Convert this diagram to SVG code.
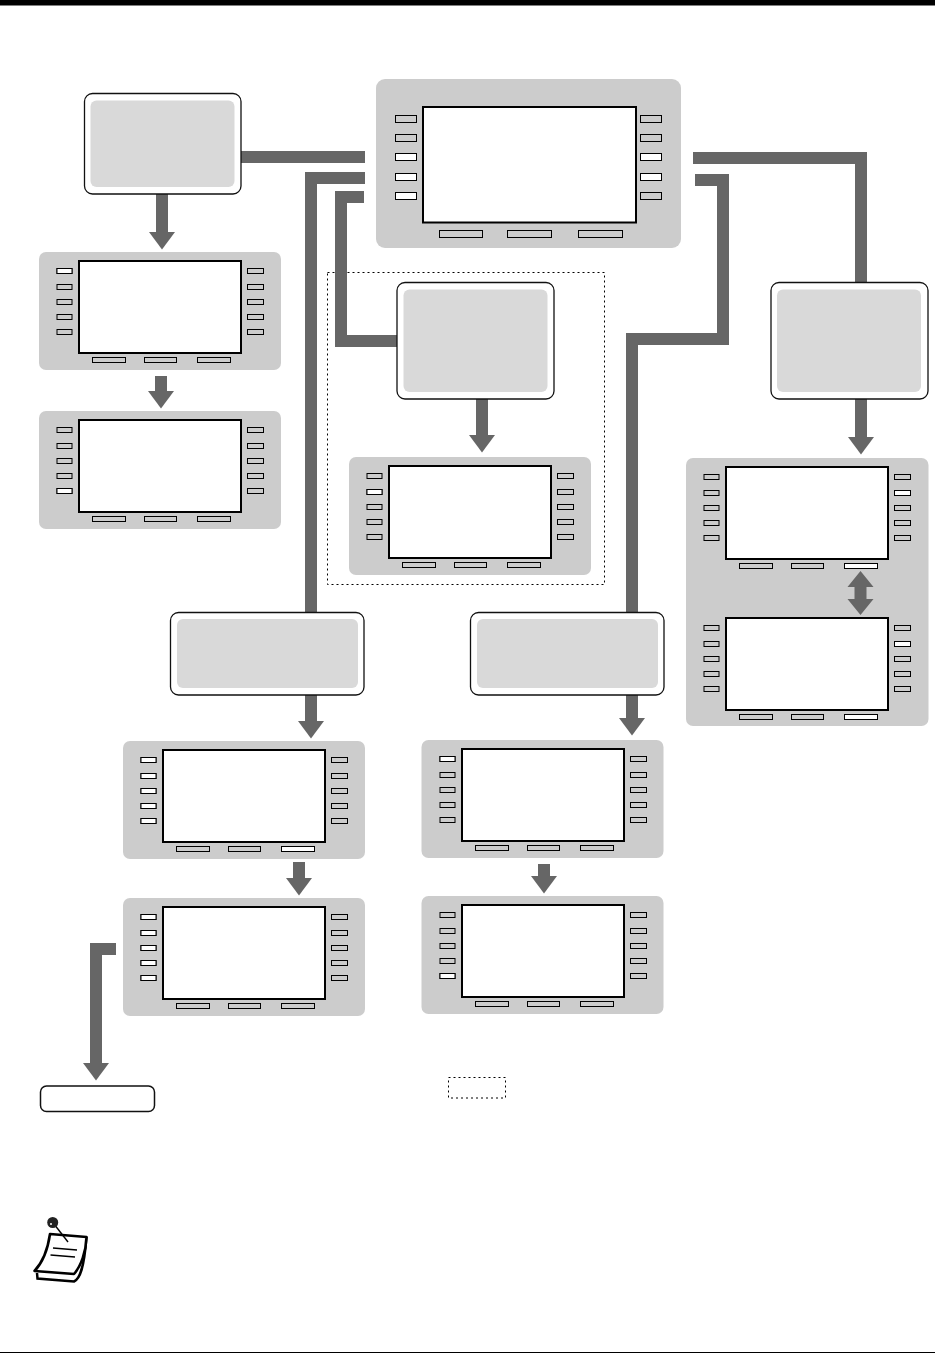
<svg xmlns="http://www.w3.org/2000/svg" xmlns:xlink="http://www.w3.org/1999/xlink" width="935" height="1353" viewBox="0 0 935 1353">
<style>
.bg{fill:#ccc}
.scr{fill:#fff;stroke:#000;stroke-width:2}
.b{fill:#ccc;stroke:#000;stroke-width:1}
.lit{fill:#fff;stroke:#000;stroke-width:1}
.outer{fill:#fff;stroke:#111;stroke-width:1.3}
.inner{fill:#d9d9d9}
.wire{fill:none;stroke:#666;stroke-width:12;stroke-linejoin:miter}
.dot{fill:none;stroke:#000;stroke-width:1;stroke-dasharray:2 3}
.ink{fill:none;stroke:#000}
</style>
<defs>
<marker id="head" markerUnits="userSpaceOnUse" markerWidth="18" markerHeight="27" refX="0" refY="13.5" orient="auto-start-reverse" viewBox="0 0 18 27"><path d="M0 0.5L17.500 13.5L0 26.5Z" fill="#666"/></marker>
<rect id="pbg" class="bg" width="242" height="118" rx="7"/>
<g id="pface">
<rect class="scr" x="40" y="9" width="162" height="92"/>
<rect class="b" x="18" y="16.5" width="15" height="5"/><rect class="b" x="18" y="32.5" width="15" height="5"/><rect class="b" x="18" y="47.5" width="15" height="5"/><rect class="b" x="18" y="62.5" width="15" height="5"/><rect class="b" x="18" y="77.5" width="15" height="5"/>
<rect class="b" x="208.5" y="16.5" width="16" height="5"/><rect class="b" x="208.5" y="32.5" width="16" height="5"/><rect class="b" x="208.5" y="47.5" width="16" height="5"/><rect class="b" x="208.5" y="62.5" width="16" height="5"/><rect class="b" x="208.5" y="77.5" width="16" height="5"/>
<rect class="b" x="53.5" y="105.5" width="33" height="5"/><rect class="b" x="105.5" y="105.5" width="32" height="5"/><rect class="b" x="158.5" y="105.5" width="33" height="5"/>
</g>
<rect id="L1" class="lit" x="18" y="16.5" width="15" height="5"/>
<rect id="L2" class="lit" x="18" y="32.5" width="15" height="5"/>
<rect id="L3" class="lit" x="18" y="47.5" width="15" height="5"/>
<rect id="L4" class="lit" x="18" y="62.5" width="15" height="5"/>
<rect id="L5" class="lit" x="18" y="77.5" width="15" height="5"/>
<rect id="R2" class="lit" x="208.5" y="32.5" width="16" height="5"/>
<rect id="B3" class="lit" x="158.5" y="105.5" width="33" height="5"/>
</defs>
<rect width="935" height="1353" fill="#fff"/>
<rect id="top-bar" width="935" height="5.500" fill="#000"/>
<rect id="bottom-rule" y="1352" width="935" height="1" fill="#000"/>

<rect id="dotted-group" class="dot" x="327.5" y="272.5" width="277" height="312"/>

<g id="connectors">
<path class="wire" d="M241 157H365"/>
<path class="wire" d="M365 178H311V612"/>
<path class="wire" d="M364 197H341V341H397"/>
<path class="wire" d="M693 158H861V282"/>
<path class="wire" d="M695 180H723V339H632V612"/>
<path class="wire" d="M162 194V232" marker-end="url(#head)"/>
<path class="wire" d="M161 376V391" marker-end="url(#head)"/>
<path class="wire" d="M482 399V435" marker-end="url(#head)"/>
<path class="wire" d="M861 399V437" marker-end="url(#head)"/>
<path class="wire" d="M311 695V721" marker-end="url(#head)"/>
<path class="wire" d="M632 695V718" marker-end="url(#head)"/>
<path class="wire" d="M299 862V878" marker-end="url(#head)"/>
<path class="wire" d="M544 864V876" marker-end="url(#head)"/>
<path class="wire" d="M116 949H96V1063" marker-end="url(#head)"/>
</g>

<g id="node-a"><rect class="outer" x="84.5" y="93.5" width="156.500" height="100.500" rx="8"/><rect class="inner" x="90.500" y="100.500" width="144" height="86.500" rx="6"/></g>
<g id="node-b"><rect class="outer" x="397" y="282.500" width="157" height="116.500" rx="8"/><rect class="inner" x="403.500" y="289.500" width="144" height="102.500" rx="6"/></g>
<g id="node-c"><rect class="outer" x="771" y="282.500" width="157" height="116.500" rx="8"/><rect class="inner" x="777" y="289.500" width="144" height="102.500" rx="6"/></g>
<g id="node-d"><rect class="outer" x="170.500" y="612.500" width="193.500" height="82.500" rx="8"/><rect class="inner" x="177" y="619" width="181" height="69" rx="6"/></g>
<g id="node-e"><rect class="outer" x="470.500" y="612.500" width="193.500" height="82.500" rx="8"/><rect class="inner" x="477" y="619" width="181" height="69" rx="6"/></g>

<g id="panel-main">
<rect class="bg" x="376" y="79" width="305" height="169" rx="9"/>
<rect class="scr" x="423" y="107" width="213" height="115.500"/>
<rect class="b" x="395.500" y="115.500" width="21" height="7"/><rect class="b" x="395.500" y="134.500" width="21" height="7"/><rect class="lit" x="395.500" y="153.500" width="21" height="7"/><rect class="lit" x="395.500" y="173.500" width="21" height="7"/><rect class="lit" x="395.500" y="192.500" width="21" height="7"/>
<rect class="b" x="640.500" y="115.500" width="21" height="7"/><rect class="b" x="640.500" y="134.500" width="21" height="7"/><rect class="lit" x="640.500" y="153.500" width="21" height="7"/><rect class="lit" x="640.500" y="173.500" width="21" height="7"/><rect class="b" x="640.500" y="192.500" width="21" height="7"/>
<rect class="b" x="439.500" y="230.500" width="43" height="7"/><rect class="b" x="507.500" y="230.500" width="44" height="7"/><rect class="b" x="578.500" y="230.500" width="44" height="7"/>
</g>

<g id="panel-1" transform="translate(39,252)"><use href="#pbg"/><use href="#pface"/><use href="#L1"/></g>
<g id="panel-2" transform="translate(39,411)"><use href="#pbg"/><use href="#pface"/><use href="#L5"/></g>
<g id="panel-3" transform="translate(349,457)"><use href="#pbg"/><use href="#pface"/><use href="#L2"/></g>
<g id="panel-4" transform="translate(123,741)"><use href="#pbg"/><use href="#pface"/><use href="#L1"/><use href="#L2"/><use href="#L3"/><use href="#L4"/><use href="#L5"/><use href="#B3"/></g>
<g id="panel-5" transform="translate(123,898)"><use href="#pbg"/><use href="#pface"/><use href="#L1"/><use href="#L2"/><use href="#L3"/><use href="#L4"/><use href="#L5"/></g>
<g id="panel-6" transform="translate(422,740)"><use href="#pbg" x="-0.5"/><use href="#pface"/><use href="#L1"/></g>
<g id="panel-7" transform="translate(422,896)"><use href="#pbg" x="-0.5"/><use href="#pface"/><use href="#L5"/></g>
<g id="panel-8">
<rect class="bg" x="686" y="458" width="242.500" height="268" rx="7"/>
<g transform="translate(686,458)"><use href="#pface"/><use href="#R2"/><use href="#B3"/></g>
<g transform="translate(686,609)"><use href="#pface"/><use href="#R2"/><use href="#B3"/></g>
</g>

<path id="double-arrow" d="M860.500 571L873.500 587H866.500V599H873.500L860.500 615L847.500 599H854.500V587H847.500Z" fill="#666"/>

<g id="end-node"><rect x="40.500" y="1086" width="114" height="25.500" rx="6" fill="#fff" stroke="#111" stroke-width="1.500"/></g>
<rect id="legend-key" class="dot" x="448.500" y="1077.500" width="57" height="20.500"/>

<g id="note-icon">
<path d="M37 1273L37.500 1278.500L74 1281.500C80 1279 84 1268 86.500 1237" fill="#fff" stroke="#000" stroke-width="2.500"/>
<path d="M50 1234L86.500 1237C86 1252 81 1266 74 1274L34.500 1271C43 1262 48 1248 50 1234Z" fill="#fff" stroke="#000" stroke-width="2.600" stroke-linejoin="round"/>
<path class="ink" stroke-width="1.500" d="M53 1248L77 1250M50.500 1255L75 1257"/>
<path class="ink" stroke-width="1.400" d="M54 1224L68 1242"/>
<circle cx="52.700" cy="1222.500" r="5.500" fill="#222"/><circle cx="51" cy="1224" r="1" fill="#fff"/>
</g>
</svg>
